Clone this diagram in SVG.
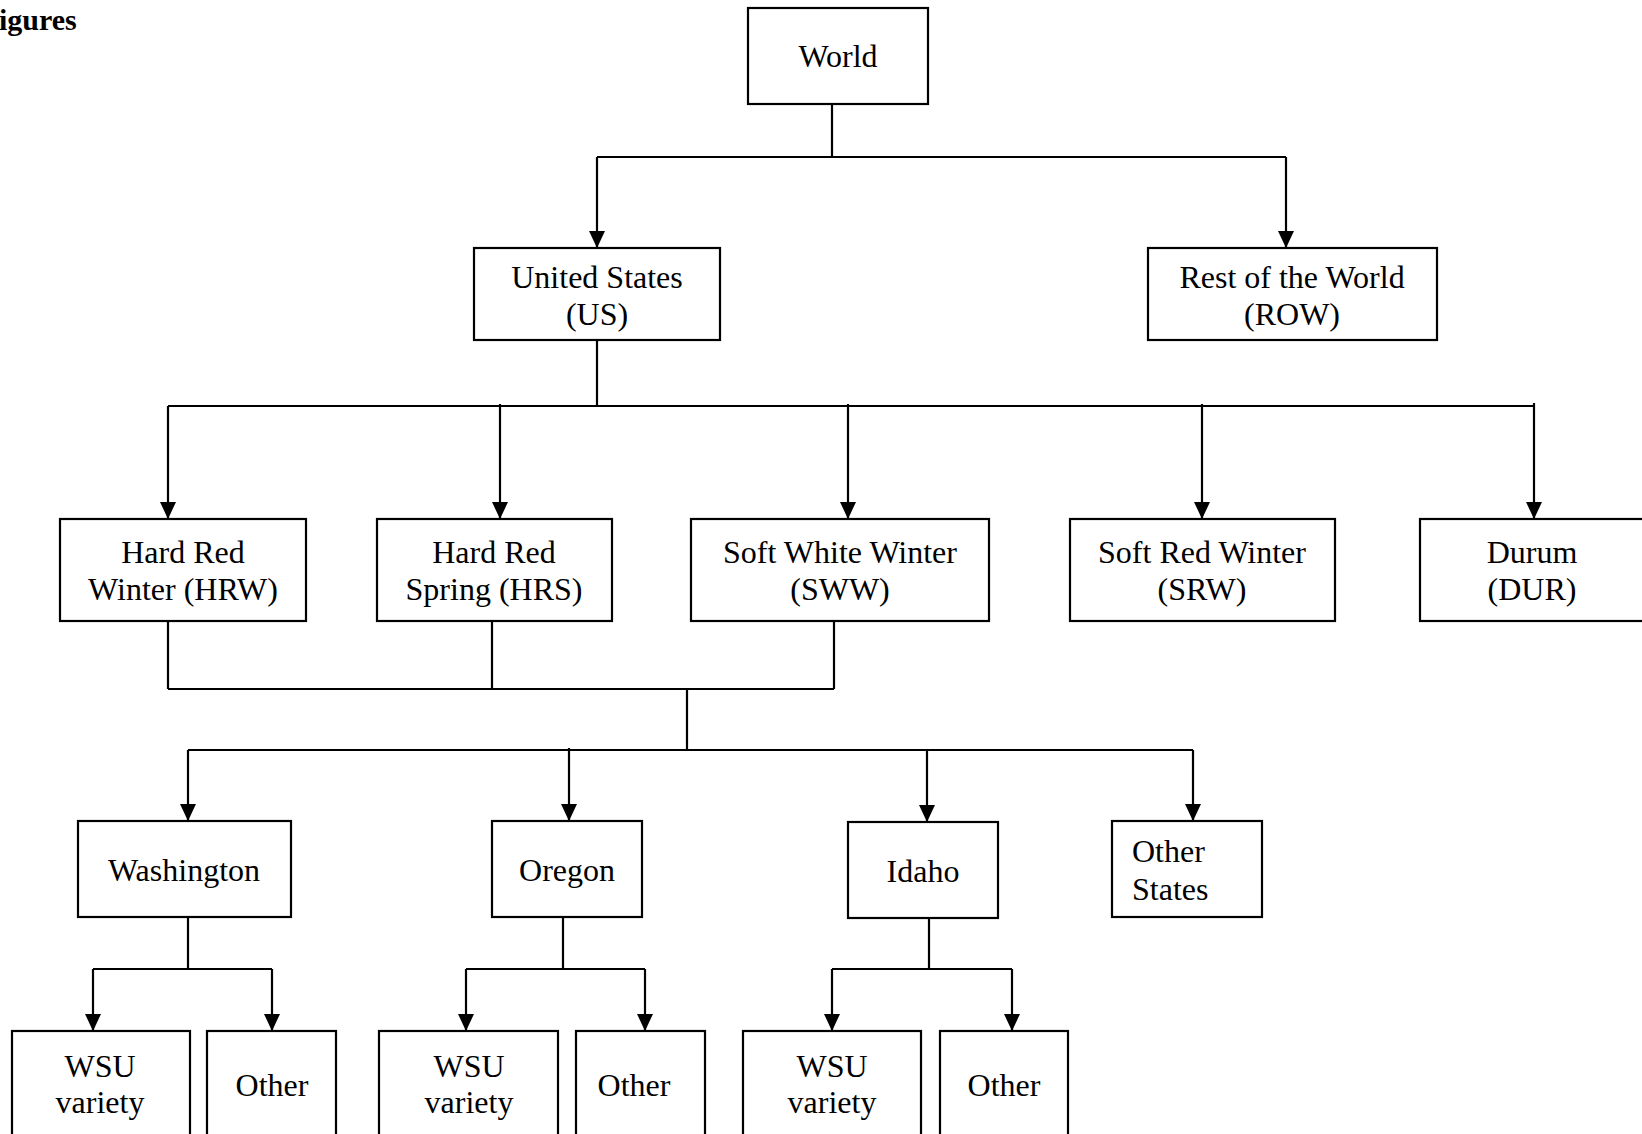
<svg xmlns="http://www.w3.org/2000/svg" width="1642" height="1134" viewBox="0 0 1642 1134">
<defs>
<marker id="arr" markerUnits="userSpaceOnUse" markerWidth="17" markerHeight="16" refX="17" refY="8" orient="auto">
<path d="M0,0 L17,8 L0,16 z" fill="#000"/>
</marker>
<style>
rect{fill:#fff;stroke:#000;stroke-width:2.2}
text{font-family:"Liberation Serif","Times New Roman",serif;font-size:32px;fill:#000;text-anchor:middle}
.c path{fill:none;stroke:#000;stroke-width:2.2}
.a{marker-end:url(#arr)}
</style>
</defs>
<rect x="0" y="0" width="1642" height="1134" style="stroke:none"/>
<text x="-1" y="30" style="font-weight:bold;font-size:30px;text-anchor:start">igures</text>
<g class="c" id="connectors">
<path d="M832,104 V157 M597,157 H1286"/>
<path class="a" d="M597,157 V248"/>
<path class="a" d="M1286,157 V248"/>
<path d="M597,340 V406 M168,406 H1534"/>
<path class="a" d="M168,406 V519"/>
<path class="a" d="M500,404 V519"/>
<path class="a" d="M848,404 V519"/>
<path class="a" d="M1202,404 V519"/>
<path class="a" d="M1534,403 V519"/>
<path d="M168,621 V689 M492,621 V689 M834,621 V689 M168,689 H834 M687,689 V750 M188,750 H1193"/>
<path class="a" d="M188,750 V821"/>
<path class="a" d="M569,748 V821"/>
<path class="a" d="M927,750 V822"/>
<path class="a" d="M1193,750 V821"/>
<path d="M188,917 V969 M93,969 H272"/>
<path class="a" d="M93,969 V1031"/>
<path class="a" d="M272,969 V1031"/>
<path d="M563,917 V969 M466,969 H645"/>
<path class="a" d="M466,969 V1031"/>
<path class="a" d="M645,969 V1031"/>
<path d="M929,918 V969 M832,969 H1012"/>
<path class="a" d="M832,969 V1031"/>
<path class="a" d="M1012,969 V1031"/>
</g>
<g id="world"><rect x="748" y="8" width="180" height="96"/><text x="838" y="67">World</text></g>
<g id="us"><rect x="474" y="248" width="246" height="92"/><text x="597" y="288">United States</text><text x="597" y="325">(US)</text></g>
<g id="row"><rect x="1148" y="248" width="289" height="92"/><text x="1292" y="288">Rest of the World</text><text x="1292" y="325">(ROW)</text></g>
<g id="hrw"><rect x="60" y="519" width="246" height="102"/><text x="183" y="563">Hard Red</text><text x="183" y="600">Winter (HRW)</text></g>
<g id="hrs"><rect x="377" y="519" width="235" height="102"/><text x="494" y="563">Hard Red</text><text x="494" y="600">Spring (HRS)</text></g>
<g id="sww"><rect x="691" y="519" width="298" height="102"/><text x="840" y="563">Soft White Winter</text><text x="840" y="600">(SWW)</text></g>
<g id="srw"><rect x="1070" y="519" width="265" height="102"/><text x="1202" y="563">Soft Red Winter</text><text x="1202" y="600">(SRW)</text></g>
<g id="dur"><rect x="1420" y="519" width="226" height="102"/><text x="1532" y="563">Durum</text><text x="1532" y="600">(DUR)</text></g>
<g id="washington"><rect x="78" y="821" width="213" height="96"/><text x="184" y="881">Washington</text></g>
<g id="oregon"><rect x="492" y="821" width="150" height="96"/><text x="567" y="881">Oregon</text></g>
<g id="idaho"><rect x="848" y="822" width="150" height="96"/><text x="923" y="882">Idaho</text></g>
<g id="otherstates"><rect x="1112" y="821" width="150" height="96"/><text x="1132" y="862" style="text-anchor:start">Other</text><text x="1132" y="900" style="text-anchor:start">States</text></g>
<g id="wa-wsu"><rect x="12" y="1031" width="178" height="110"/><text x="100" y="1077">WSU</text><text x="100" y="1113">variety</text></g>
<g id="wa-other"><rect x="207" y="1031" width="129" height="110"/><text x="272" y="1096">Other</text></g>
<g id="or-wsu"><rect x="379" y="1031" width="179" height="110"/><text x="469" y="1077">WSU</text><text x="469" y="1113">variety</text></g>
<g id="or-other"><rect x="576" y="1031" width="129" height="110"/><text x="634" y="1096">Other</text></g>
<g id="id-wsu"><rect x="743" y="1031" width="178" height="110"/><text x="832" y="1077">WSU</text><text x="832" y="1113">variety</text></g>
<g id="id-other"><rect x="940" y="1031" width="128" height="110"/><text x="1004" y="1096">Other</text></g>
</svg>
